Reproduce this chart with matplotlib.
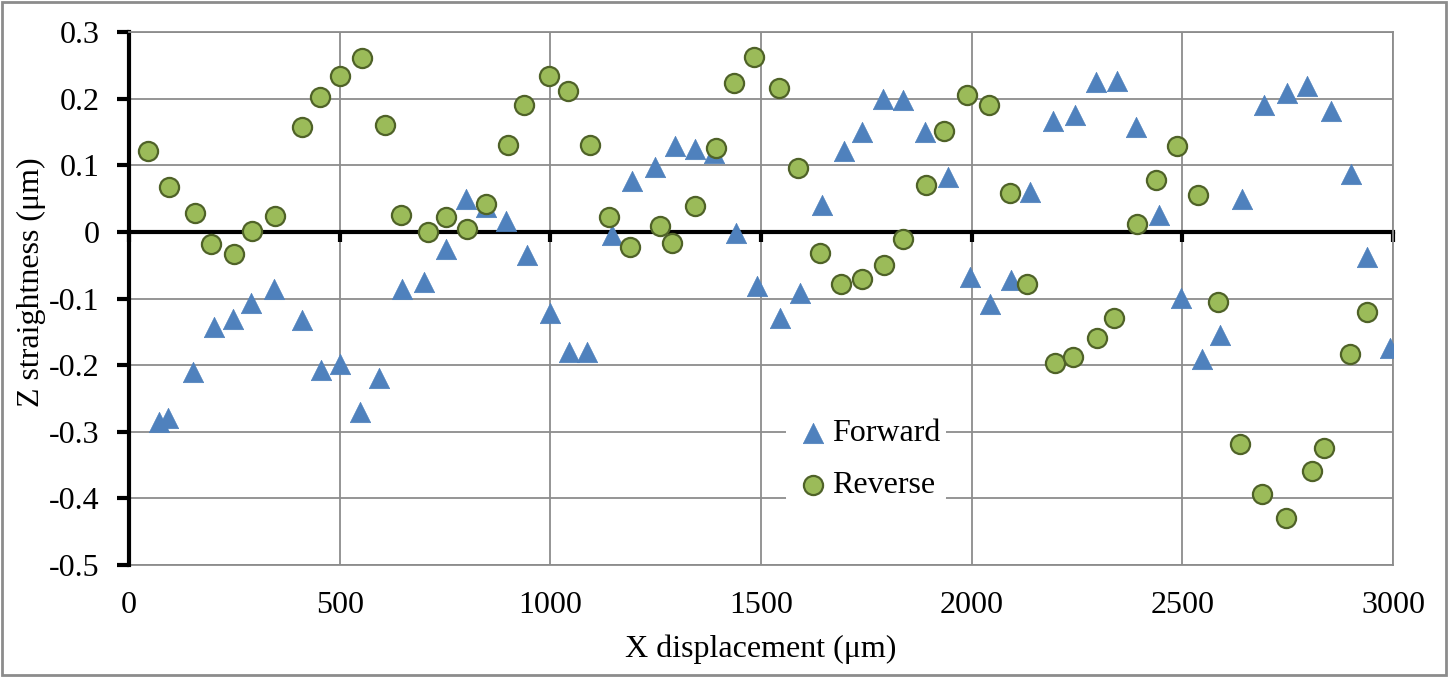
import matplotlib
matplotlib.use("Agg")
import matplotlib.pyplot as plt
from matplotlib.patches import Rectangle

# Forward run (triangles)
fwd_x = [70, 92, 151, 201, 246, 290, 345, 411, 456, 500, 549, 593, 647, 699, 752,
         799, 847, 895, 944, 1000, 1044, 1088, 1146, 1193, 1248, 1297, 1343, 1389,
         1441, 1491, 1544, 1593, 1645, 1697, 1739, 1790, 1838, 1889, 1944, 1995,
         2044, 2093, 2139, 2194, 2246, 2294, 2344, 2390, 2444, 2498, 2547, 2590,
         2642, 2695, 2748, 2797, 2854, 2901, 2938, 2993]
fwd_z = [-0.285, -0.279, -0.210, -0.143, -0.130, -0.107, -0.086, -0.132, -0.208,
         -0.198, -0.271, -0.220, -0.086, -0.075, -0.026, 0.050, 0.037, 0.016,
         -0.034, -0.122, -0.180, -0.180, -0.004, 0.077, 0.098, 0.129, 0.125, 0.118,
         -0.002, -0.081, -0.129, -0.092, 0.040, 0.122, 0.150, 0.200, 0.198, 0.150,
         0.082, -0.067, -0.108, -0.072, 0.060, 0.167, 0.175, 0.225, 0.227, 0.158,
         0.025, -0.099, -0.191, -0.155, 0.049, 0.191, 0.208, 0.219, 0.181, 0.087,
         -0.038, -0.175]

# Reverse run (circles)
rev_x = [44, 96, 157, 194, 249, 293, 347, 411, 454, 501, 553, 608, 645, 710, 752,
         802, 847, 900, 938, 997, 1042, 1095, 1140, 1190, 1261, 1289, 1344, 1393,
         1435, 1484, 1543, 1589, 1641, 1691, 1740, 1792, 1837, 1891, 1934, 1989,
         2040, 2091, 2131, 2199, 2241, 2297, 2337, 2392, 2438, 2487, 2537, 2585,
         2638, 2690, 2745, 2807, 2836, 2897, 2938]
rev_z = [0.121, 0.068, 0.029, -0.018, -0.033, 0.002, 0.024, 0.158, 0.202, 0.234,
         0.261, 0.160, 0.025, 0.000, 0.023, 0.005, 0.042, 0.130, 0.190, 0.234,
         0.211, 0.130, 0.023, -0.022, 0.009, -0.016, 0.039, 0.126, 0.224, 0.262,
         0.216, 0.096, -0.031, -0.078, -0.070, -0.050, -0.010, 0.070, 0.151, 0.205,
         0.190, 0.058, -0.078, -0.197, -0.188, -0.160, -0.129, 0.012, 0.078, 0.129,
         0.055, -0.105, -0.318, -0.394, -0.430, -0.359, -0.324, -0.184, -0.120]

x_ticks = [0, 500, 1000, 1500, 2000, 2500, 3000]
y_ticks = [-0.5, -0.4, -0.3, -0.2, -0.1, 0, 0.1, 0.2, 0.3]
y_labels = ["-0.5", "-0.4", "-0.3", "-0.2", "-0.1", "0", "0.1", "0.2", "0.3"]

plt.rcParams['font.family'] = ['Liberation Serif', 'DejaVu Serif']
grid_col = '#8c8c8c'

fig = plt.figure(figsize=(14.48, 6.77), dpi=100)
ax = fig.add_axes([0.0891, 0.1654, 0.8729, 0.7873])

ax.scatter(fwd_x, fwd_z, marker='^', s=215, color='#4f81bd', edgecolors='#4f81bd',
           linewidths=0.5, zorder=3, label='Forward')
ax.scatter(rev_x, rev_z, marker='o', s=190, color='#9bbb59', edgecolors='#4f6228',
           linewidths=1.6, zorder=3, label='Reverse')

ax.set_xlim(0, 3000)
ax.set_ylim(-0.5, 0.3)
ax.set_yticks(y_ticks)
ax.set_yticklabels(y_labels)
ax.set_xticks(x_ticks)
ax.grid(True, color=grid_col, linewidth=1.3, zorder=0)
ax.set_axisbelow(True)

# x axis line sits at z = 0, labels stay at the bottom
ax.spines['bottom'].set_position(('data', 0))
ax.spines['bottom'].set_linewidth(3)
ax.spines['bottom'].set_color('black')
ax.spines['bottom'].set_zorder(2)
ax.tick_params(axis='x', direction='out', length=7, width=3, color='black',
               labelbottom=False)
ax.spines['left'].set_linewidth(3)
ax.tick_params(axis='y', direction='out', length=9, width=3, color='black',
               labelsize=23, pad=12)
for s in ['top', 'right']:
    ax.spines[s].set_color(grid_col)
    ax.spines[s].set_linewidth(1.3)

sec = ax.secondary_xaxis(0)
sec.set_xticks(x_ticks)
sec.tick_params(length=0, labelsize=23, pad=19)
sec.spines['bottom'].set_color(grid_col)
sec.spines['bottom'].set_linewidth(1.3)
sec.set_xlabel('X displacement (μm)', fontsize=23, labelpad=10)

ax.set_ylabel('Z straightness (μm)', fontsize=23)
ax.yaxis.set_label_coords(-0.066, 0.53)

leg = ax.legend(loc='center', bbox_to_anchor=(0.583, 0.198), fontsize=23,
                frameon=True, facecolor='white', edgecolor='none', framealpha=1,
                handletextpad=-0.1, borderpad=0.15, labelspacing=0.7,
                handlelength=1.4, borderaxespad=0)

fig.patches.append(Rectangle((0.0015, 0.003), 0.997, 0.994, transform=fig.transFigure,
                             fill=False, edgecolor=grid_col, linewidth=2))

fig.savefig('out.png', dpi=100)
